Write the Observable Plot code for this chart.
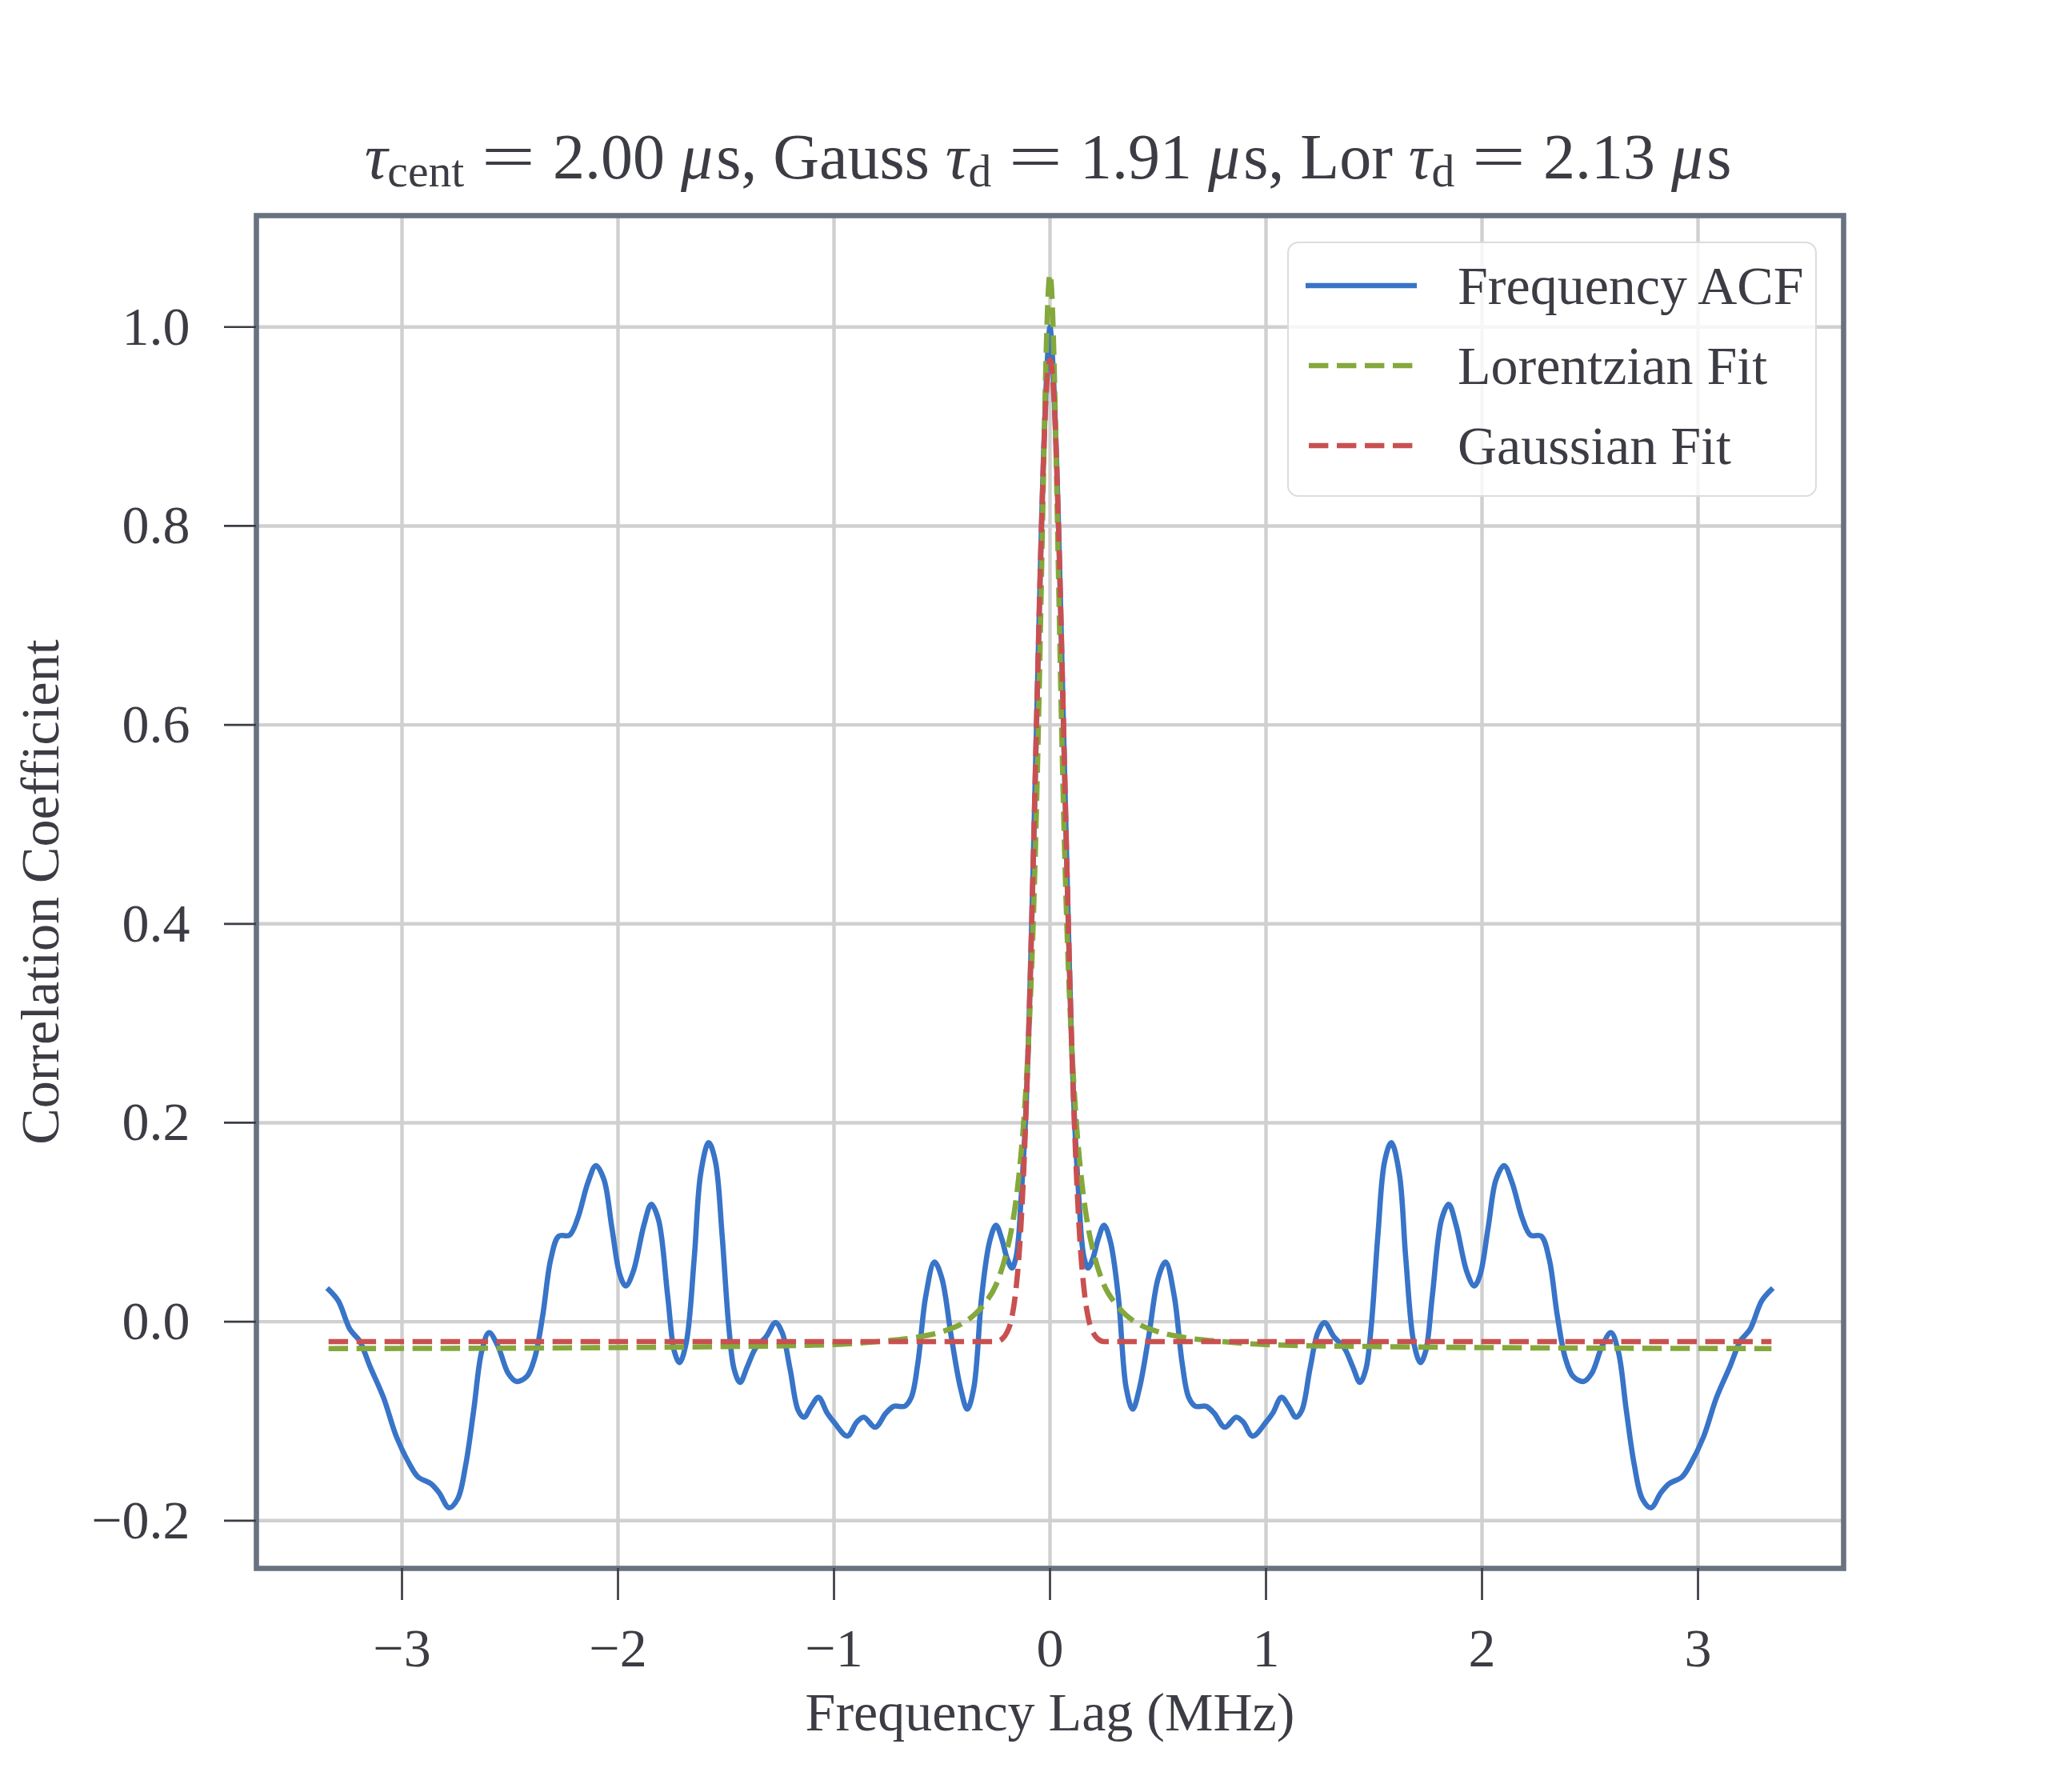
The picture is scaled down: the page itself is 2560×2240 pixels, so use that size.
<!DOCTYPE html>
<html>
<head>
<meta charset="utf-8">
<script src="https://cdn.jsdelivr.net/npm/d3@7"></script>
<script src="https://cdn.jsdelivr.net/npm/@observablehq/plot@0.6"></script>
<style>
  body { margin: 0; background: #ffffff; }
  #fig { position: relative; width: 2560px; height: 2240px; font-family: "Liberation Serif", "DejaVu Serif", serif; color: #3c3c44; background: #ffffff; }
  #chart { position: absolute; left: 0; top: 0; }
  #title { position: absolute; top: 156px; left: 1310px; transform: translateX(-50%); white-space: nowrap; font-size: 80px; line-height: 1; }
  #title .m { font-style: italic; }
  #title .eq { display: inline-block; transform: scaleX(1.5); margin: 0 0.16em; }
  #title .u { margin-left: 0.05em; }
  #title sub { font-size: 0.72em; vertical-align: -0.18em; line-height: 0; }
  #legend { position: absolute; left: 1609px; top: 302px; width: 662px; height: 319px; box-sizing: border-box; border: 2.5px solid #dcdcdc; border-radius: 14px; background: rgba(255,255,255,0.8); }
  #legend .row { position: absolute; left: 0; width: 100%; height: 100px; }
  #legend svg { position: absolute; left: 21px; }
  #legend .lab { position: absolute; left: 211px; font-size: 68px; line-height: 1; white-space: nowrap; }
</style>
</head>
<body>
<div id="fig">
  <div id="chart"></div>
  <div id="title"><span class="m">τ</span><sub>cent</sub> <span class="eq">=</span> 2.00 <span class="m">μ</span><span class="u">s</span>, Gauss <span class="m">τ</span><sub>d</sub> <span class="eq">=</span> 1.91 <span class="m">μ</span><span class="u">s</span>, Lor <span class="m">τ</span><sub>d</sub> <span class="eq">=</span> 2.13 <span class="m">μ</span><span class="u">s</span></div>
  <div id="legend"></div>
</div>
<script>
// ---- data ----
const acfLag = [
  -3.338, -3.295, -3.240, -3.197, -3.148, -3.086, -3.025, -2.963, -2.926, -2.865,
  -2.828, -2.782, -2.742, -2.705, -2.668, -2.631, -2.597, -2.557, -2.508, -2.471,
  -2.422, -2.385, -2.348, -2.311, -2.274, -2.225, -2.188, -2.139, -2.102, -2.065,
  -2.028, -1.991, -1.964, -1.930, -1.880, -1.846, -1.813, -1.770, -1.739, -1.715,
  -1.684, -1.647, -1.617, -1.580, -1.549, -1.518, -1.487, -1.462, -1.435, -1.401,
  -1.364, -1.314, -1.271, -1.240, -1.203, -1.166, -1.139, -1.105, -1.072, -1.031,
  -1.000, -0.938, -0.895, -0.862, -0.809, -0.760, -0.723, -0.673, -0.642, -0.612,
  -0.575, -0.535, -0.501, -0.457, -0.414, -0.383, -0.353, -0.316, -0.279, -0.250,
  -0.223, -0.199, -0.176, -0.158, -0.145, -0.137, -0.127, -0.118, -0.110, -0.100,
  -0.090, -0.080, -0.070, -0.060, -0.050, -0.040, -0.030, -0.020, -0.010, 0.000,
  0.010, 0.020, 0.030, 0.040, 0.050, 0.060, 0.070, 0.080, 0.090, 0.100,
  0.110, 0.118, 0.127, 0.137, 0.145, 0.158, 0.176, 0.199, 0.223, 0.250,
  0.279, 0.316, 0.353, 0.383, 0.414, 0.457, 0.501, 0.535, 0.575, 0.612,
  0.642, 0.673, 0.723, 0.760, 0.809, 0.862, 0.895, 0.938, 1.000, 1.031,
  1.072, 1.105, 1.139, 1.166, 1.203, 1.240, 1.271, 1.314, 1.364, 1.401,
  1.435, 1.462, 1.487, 1.518, 1.549, 1.580, 1.617, 1.647, 1.684, 1.715,
  1.739, 1.770, 1.813, 1.846, 1.880, 1.930, 1.964, 1.991, 2.028, 2.065,
  2.102, 2.139, 2.188, 2.225, 2.274, 2.311, 2.348, 2.385, 2.422, 2.471,
  2.508, 2.557, 2.597, 2.631, 2.668, 2.705, 2.742, 2.782, 2.828, 2.865,
  2.926, 2.963, 3.025, 3.086, 3.148, 3.197, 3.240, 3.295, 3.338
];
const acfValue = [
  0.032, 0.021, -0.008, -0.019, -0.045, -0.076, -0.116, -0.144, -0.156, -0.163,
  -0.172, -0.187, -0.178, -0.144, -0.089, -0.030, -0.011, -0.024, -0.052, -0.060,
  -0.055, -0.036, 0.007, 0.063, 0.086, 0.087, 0.103, 0.140, 0.157, 0.143,
  0.094, 0.047, 0.036, 0.050, 0.097, 0.118, 0.103, 0.026, -0.030, -0.041,
  -0.021, 0.064, 0.149, 0.180, 0.161, 0.087, -0.005, -0.048, -0.061, -0.045,
  -0.027, -0.015, -0.001, -0.011, -0.048, -0.089, -0.096, -0.085, -0.076, -0.092,
  -0.101, -0.115, -0.101, -0.096, -0.106, -0.092, -0.085, -0.085, -0.076, -0.042,
  0.026, 0.060, 0.044, -0.015, -0.067, -0.088, -0.067, 0.026, 0.081, 0.097,
  0.083, 0.064, 0.054, 0.064, 0.086, 0.113, 0.148, 0.183, 0.220, 0.280,
  0.355, 0.440, 0.530, 0.620, 0.710, 0.795, 0.870, 0.930, 0.975, 1.000,
  0.975, 0.930, 0.870, 0.795, 0.710, 0.620, 0.530, 0.440, 0.355, 0.280,
  0.220, 0.183, 0.148, 0.113, 0.086, 0.064, 0.054, 0.064, 0.083, 0.097,
  0.081, 0.026, -0.067, -0.088, -0.067, -0.015, 0.044, 0.060, 0.026, -0.042,
  -0.076, -0.085, -0.085, -0.092, -0.106, -0.096, -0.101, -0.115, -0.101, -0.092,
  -0.076, -0.085, -0.096, -0.089, -0.048, -0.011, -0.001, -0.015, -0.027, -0.045,
  -0.061, -0.048, -0.005, 0.087, 0.161, 0.180, 0.149, 0.064, -0.021, -0.041,
  -0.030, 0.026, 0.103, 0.118, 0.097, 0.050, 0.036, 0.047, 0.094, 0.143,
  0.157, 0.140, 0.103, 0.087, 0.086, 0.063, 0.007, -0.036, -0.055, -0.060,
  -0.052, -0.024, -0.011, -0.030, -0.089, -0.144, -0.178, -0.187, -0.172, -0.163,
  -0.156, -0.144, -0.116, -0.076, -0.045, -0.019, -0.008, 0.021, 0.032
];

const lorLag = [
  -3.34, -2.00, -1.50, -1.00, -0.80, -0.60, -0.50, -0.40, -0.35, -0.30,
  -0.25, -0.20, -0.18, -0.16, -0.14, -0.12, -0.10, -0.08, -0.07, -0.06,
  -0.05, -0.04, -0.03, -0.02, -0.01, 0.00,
  0.01, 0.02, 0.03, 0.04, 0.05, 0.06, 0.07, 0.08, 0.10, 0.12,
  0.14, 0.16, 0.18, 0.20, 0.25, 0.30, 0.35, 0.40, 0.50, 0.60,
  0.80, 1.00, 1.50, 2.00, 3.34
];
const lorValue = [
  -0.027, -0.026, -0.025, -0.023, -0.020, -0.015, -0.010, -0.001, 0.007, 0.019,
  0.037, 0.071, 0.091, 0.118, 0.155, 0.206, 0.280, 0.386, 0.456, 0.539,
  0.636, 0.743, 0.853, 0.954, 1.026, 1.053,
  1.026, 0.954, 0.853, 0.743, 0.636, 0.539, 0.456, 0.386, 0.280, 0.206,
  0.155, 0.118, 0.091, 0.071, 0.037, 0.019, 0.007, -0.001, -0.010, -0.015,
  -0.020, -0.023, -0.025, -0.026, -0.027
];

const gaussLag = [
  -3.34, -1.00, -0.30, -0.25, -0.22, -0.20, -0.18, -0.16, -0.14, -0.12,
  -0.10, -0.08, -0.06, -0.04, -0.02, 0.00,
  0.02, 0.04, 0.06, 0.08, 0.10, 0.12, 0.14, 0.16, 0.18, 0.20,
  0.22, 0.25, 0.30, 1.00, 3.34
];
const gaussValue = [
  -0.020, -0.020, -0.020, -0.020, -0.017, -0.011, 0.001, 0.028, 0.077, 0.160,
  0.282, 0.443, 0.625, 0.796, 0.922, 0.967,
  0.922, 0.796, 0.625, 0.443, 0.282, 0.160, 0.077, 0.028, 0.001, -0.011,
  -0.017, -0.020, -0.020, -0.020, -0.020
];

const xTicks = [-3, -2, -1, 0, 1, 2, 3];
const xTickLabels = ["−3", "−2", "−1", "0", "1", "2", "3"];
const yTicks = [-0.2, 0.0, 0.2, 0.4, 0.6, 0.8, 1.0];
const yTickLabels = ["−0.2", "0.0", "0.2", "0.4", "0.6", "0.8", "1.0"];

const seriesNames = ["Frequency ACF", "Lorentzian Fit", "Gaussian Fit"];
const seriesColors = ["#3874c8", "#84a83c", "#c95050"];

// ---- tables built from the arrays ----
const acf = acfLag.map((x, i) => ({x, y: acfValue[i]}));
const lor = lorLag.map((x, i) => ({x, y: lorValue[i]}));
const gauss = gaussLag.map((x, i) => ({x, y: gaussValue[i]}));

const textColor = "#3c3c44";
const lw = 6.6;
const dash = "24.4,10.6";

const chart = Plot.plot({
  width: 2560,
  height: 2240,
  marginLeft: 320,
  marginRight: 256,
  marginTop: 269,
  marginBottom: 280,
  style: {fontFamily: "'Liberation Serif', 'DejaVu Serif', serif", fontSize: "68px", color: textColor, background: "transparent", overflow: "visible"},
  x: {domain: [-3.674, 3.674]},
  y: {domain: [-0.248, 1.112]},
  marks: [
    Plot.gridX(xTicks, {stroke: "#d0d0d0", strokeOpacity: 1, strokeWidth: 4.4}),
    Plot.gridY(yTicks, {stroke: "#d0d0d0", strokeOpacity: 1, strokeWidth: 4.4}),
    Plot.line(acf, {x: "x", y: "y", stroke: seriesColors[0], strokeWidth: lw, curve: "catmull-rom", strokeLinejoin: "round", strokeLinecap: "square"}),
    Plot.line(lor, {x: "x", y: "y", stroke: seriesColors[1], strokeWidth: lw, curve: "monotone-x", strokeDasharray: dash, strokeLinecap: "butt"}),
    Plot.line(gauss, {x: "x", y: "y", stroke: seriesColors[2], strokeWidth: lw, curve: "monotone-x", strokeDasharray: dash, strokeLinecap: "butt"}),
    Plot.frame({stroke: "#697280", strokeWidth: 6.6}),
    Plot.axisX(xTicks, {anchor: "bottom", tickSize: 40, tickPadding: 34, tickFormat: d => xTickLabels[xTicks.indexOf(d)], stroke: textColor, strokeWidth: 2.7, fontSize: 68, label: null}),
    Plot.axisY(yTicks, {anchor: "left", tickSize: 40, tickPadding: 43, tickFormat: d => yTickLabels[yTicks.indexOf(d)], stroke: textColor, strokeWidth: 2.7, fontSize: 68, label: null}),
    Plot.text(["Frequency Lag (MHz)"], {frameAnchor: "bottom", dy: 202, lineAnchor: "bottom", textAnchor: "middle", fontSize: 68, fill: textColor}),
    Plot.text(["Correlation Coefficient"], {frameAnchor: "left", dx: -248, rotate: -90, lineAnchor: "bottom", textAnchor: "middle", fontSize: 68, fill: textColor})
  ]
});
document.getElementById("chart").appendChild(chart);

// ---- legend ----
const legend = document.getElementById("legend");
seriesNames.forEach((name, i) => {
  const row = document.createElement("div");
  row.className = "row";
  row.style.top = (i * 100) + "px";
  const dashed = i > 0;
  row.innerHTML =
    `<svg width="140" height="20" style="top:43px" viewBox="0 0 140 20">` +
    `<line x1="${dashed ? 4 : 0}" x2="${dashed ? 138 : 139}" y1="10" y2="10" stroke="${seriesColors[i]}" stroke-width="${lw}"` +
    (dashed ? ` stroke-dasharray="${dash}"` : ``) + `/></svg>` +
    `<div class="lab" style="top:19px">${name}</div>`;
  legend.appendChild(row);
});
</script>
</body>
</html>
